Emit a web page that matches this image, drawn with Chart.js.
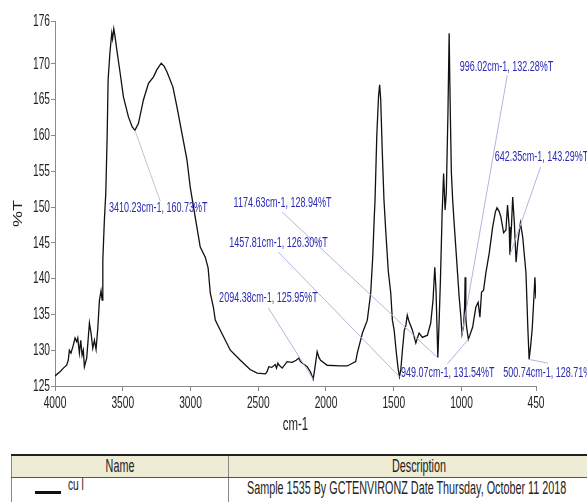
<!DOCTYPE html>
<html>
<head>
<meta charset="utf-8">
<script src="https://cdn.jsdelivr.net/npm/chart.js@4.4.1/dist/chart.umd.min.js"></script>
<style>
  html, body { margin: 0; padding: 0; background: #fff; overflow: hidden; }
  #wrap { position: relative; width: 587px; height: 502px; overflow: hidden; }
  #ir-chart { position: absolute; left: 0; top: 0; }
  table.lg { position: absolute; left: 11px; top: 454px; width: 600px; border-collapse: collapse; table-layout: fixed;
    font-family: "Liberation Sans", Arial, sans-serif; font-size: 18px; color: #222; }
  table.lg th { background: #efecd6; font-weight: normal; height: 20px; padding: 0; overflow: hidden; white-space: nowrap;
    border-top: 2px solid #222; border-bottom: 1px solid #555; border-right: 1px solid #888; border-left: 1px solid #888; }
  table.lg td { height: 44px; padding: 0; border-right: 1px solid #888; border-left: 1px solid #888; vertical-align: top;
    white-space: nowrap; overflow: hidden; }
  .sq { display: inline-block; transform: scaleX(0.6); white-space: nowrap; }
  th .sq { transform-origin: center; }
  td .sq { transform-origin: left; }
  .sw { display: inline-block; width: 26px; height: 3px; background: #111; margin: 0 7px 0 23px; vertical-align: middle; }
</style>
</head>
<body>
<div id="wrap">
  <canvas id="ir-chart" width="587" height="445"></canvas>
  <table class="lg">
    <colgroup><col style="width:217px"><col></colgroup>
    <tr><th><span class="sq">Name</span></th><th><span class="sq">Description</span></th></tr>
    <tr>
      <td><div style="margin-top:-3px"><span class="sw"></span><span class="sq" style="font-size:17px;vertical-align:7px">cu l</span></div></td>
      <td><div style="margin:0 0 0 18px"><span class="sq">Sample 1535 By GCTENVIRONZ Date Thursday, October 11 2018</span></div></td>
    </tr>
  </table>
</div>
<script>
/* FTIR スペクトル: 横軸は波数(降順)、縦軸は %T。ピーク注記つき */

const WAVENUMBER = [
  4000, 3963, 3938, 3914, 3902, 3894, 3882, 3865, 3852, 3840, 3832, 3820, 3810, 3800, 3791, 3783,
  3766, 3746, 3734, 3721, 3709, 3697, 3684, 3672, 3660, 3652, 3647, 3636, 3625, 3615, 3608, 3595,
  3581, 3575, 3566, 3558, 3544, 3519, 3495, 3458, 3430, 3410.23, 3384, 3347, 3310, 3273, 3248, 3216,
  3195, 3174, 3130, 3100, 3063, 3026, 3002, 2960, 2928, 2891, 2870, 2854, 2831, 2817, 2780, 2706,
  2632, 2560, 2508, 2447, 2435, 2422, 2400, 2375, 2365, 2355, 2345, 2323, 2287, 2250, 2220, 2200,
  2188, 2160, 2139, 2115, 2094.38, 2082, 2065, 2052, 2040, 1991, 1900, 1843, 1781, 1769, 1731, 1695,
  1670, 1655, 1645, 1638, 1625, 1612, 1604, 1596, 1585, 1572, 1560, 1540, 1522, 1510, 1497, 1480,
  1468, 1457.81, 1448, 1436, 1422, 1411, 1400, 1387, 1362, 1337, 1313, 1288, 1251, 1227, 1210, 1197,
  1188, 1174.63, 1165, 1155, 1143, 1132, 1121, 1112, 1100, 1091, 1084, 1075, 1065, 1055, 1042, 1017,
  1005, 996.02, 985, 977, 973, 968, 962, 955, 949.07, 940, 918, 894, 877, 864, 852, 837,
  820, 795, 770, 750, 738, 722, 709, 689, 672, 660, 648, 642.35, 632, 622, 610, 597,
  585, 565, 548, 524, 510, 500.74, 490, 478, 468, 458, 453, 450,
];
const TRANSMITTANCE = [
  126.4, 127.0, 127.5, 127.9, 128.6, 130.0, 129.6, 130.7, 131.7, 131.2, 131.7, 129.6, 131.4, 129.3, 130.0, 127.7,
  128.9, 133.8, 132.4, 130.3, 131.4, 130.1, 133.1, 137.0, 138.3, 137.0, 142.6, 148.0, 152.0, 160.0, 167.8, 171.5,
  174.3, 173.5, 174.9, 174.0, 172.0, 168.7, 165.4, 162.6, 161.2, 160.73, 161.7, 165.0, 167.3, 168.2, 169.2, 170.1,
  169.7, 168.9, 166.8, 164.0, 160.3, 156.6, 152.8, 148.0, 144.4, 143.0, 141.5, 138.0, 136.0, 134.2, 132.8, 130.0,
  128.6, 127.3, 126.8, 126.7, 127.0, 127.7, 127.6, 128.0, 127.5, 128.2, 127.9, 127.5, 128.4, 128.3, 128.6, 128.9,
  128.4, 128.0, 127.7, 127.0, 125.95, 127.5, 129.8, 129.0, 128.6, 127.9, 127.8, 127.8, 128.4, 129.6, 132.4, 134.2,
  138.0, 143.0, 148.0, 151.0, 160.0, 165.5, 167.1, 165.0, 158.0, 151.0, 147.0, 141.0, 138.0, 134.2, 132.8, 129.5,
  127.5, 126.3, 127.2, 130.0, 132.8, 133.4, 134.9, 134.0, 132.8, 131.0, 132.4, 131.8, 132.1, 133.8, 137.0, 141.6,
  138.4, 128.94, 134.0, 140.0, 149.0, 154.7, 149.6, 152.0, 163.0, 174.3, 165.0, 155.0, 151.0, 148.0, 144.4, 137.4,
  134.8, 132.28, 133.3, 136.0, 140.2, 134.5, 133.2, 132.3, 131.54, 132.0, 133.2, 136.0, 136.7, 134.6, 138.1, 138.4,
  140.8, 143.6, 147.2, 149.3, 149.9, 149.4, 148.6, 146.4, 146.8, 150.3, 147.2, 143.29, 147.0, 151.4, 147.8, 142.3,
  145.0, 147.8, 145.8, 140.8, 133.0, 128.71, 130.5, 133.0, 136.5, 140.2, 138.0, 137.2,
];

const X_TICKS = [4000, 3500, 3000, 2500, 2000, 1500, 1000, 450];
const Y_TICKS = [125, 130, 135, 140, 145, 150, 155, 160, 165, 170, 176];

// ピーク注記(波数, %T)
const PEAK_WN = [3410.23, 1174.63, 1457.81, 2094.38, 949.07, 500.74, 996.02, 642.35];
const PEAK_T = [160.73, 128.94, 126.3, 125.95, 131.54, 128.71, 132.28, 143.29];

// 注記文字の中心と引き出し線の端(データ座標)
const LABEL_AT = [[3238, 149.9], [2321, 150.6], [2351, 145.0], [2425, 137.3], [1101, 126.8], [346, 126.8], [668, 169.6], [409, 157.0]];
const LEADER_END = [[3223, 150.8], [2323, 149.3], [2351, 143.7], [2425, 135.9], [1103, 128.1], [363, 128.2], [662, 168.4], [416, 155.6]];

const FONT = "'Liberation Sans', Arial, sans-serif";
const SQ = 0.6; // 元画像は横方向に圧縮されている

function squishText(ctx, text, x, y, size, align, color) {
  ctx.save();
  ctx.translate(x, y);
  ctx.scale(SQ, 1);
  ctx.font = `${size}px ${FONT}`;
  ctx.fillStyle = color;
  ctx.textAlign = align;
  ctx.textBaseline = "middle";
  ctx.fillText(text, 0, 0);
  ctx.restore();
}

const labelPlugin = {
  id: "irLabels",
  afterDraw(chart) {
    const ctx = chart.ctx;
    const xs = chart.scales.x;
    const ys = chart.scales.y;
    const ink = "#222";

    X_TICKS.forEach((v) => squishText(ctx, String(v), xs.getPixelForValue(v), xs.top + 17, 17, "center", ink));
    Y_TICKS.forEach((v) => squishText(ctx, String(v), ys.right - 5, ys.getPixelForValue(v), 17, "right", ink));
    squishText(ctx, "cm-1", (xs.left + xs.right) / 2, xs.top + 39, 19, "center", ink);

    ctx.save();
    ctx.translate(18, (ys.top + ys.bottom) / 2 + 10);
    ctx.scale(0.75, 1);
    ctx.rotate(-Math.PI / 2);
    ctx.font = `18px ${FONT}`;
    ctx.fillStyle = ink;
    ctx.textAlign = "center";
    ctx.textBaseline = "middle";
    ctx.fillText("%T", 0, 0);
    ctx.restore();

    PEAK_WN.forEach((wn, i) => {
      const px = xs.getPixelForValue(wn);
      const py = ys.getPixelForValue(PEAK_T[i]);
      const ex = xs.getPixelForValue(LEADER_END[i][0]);
      const ey = ys.getPixelForValue(LEADER_END[i][1]);
      ctx.save();
      ctx.strokeStyle = i === 0 ? "#c4c4c4" : "#b3b5dc";
      ctx.lineWidth = 1;
      ctx.beginPath();
      ctx.moveTo(px, py);
      ctx.lineTo(ex, ey);
      ctx.stroke();
      ctx.restore();
      const text = `${wn.toFixed(2)}cm-1, ${PEAK_T[i].toFixed(2)}%T`;
      squishText(ctx, text, xs.getPixelForValue(LABEL_AT[i][0]), ys.getPixelForValue(LABEL_AT[i][1]), 15, "center", "#2a2ab4");
    });
  },
};

const points = WAVENUMBER.map((w, i) => ({ x: w, y: TRANSMITTANCE[i] }));
const axisGrey = "#8a8a8a";

new Chart(document.getElementById("ir-chart"), {
  type: "line",
  data: {
    datasets: [{ data: points, borderColor: "#111", borderWidth: 1.3, pointRadius: 0, tension: 0, fill: false }],
  },
  options: {
    responsive: false,
    animation: false,
    devicePixelRatio: 1,
    layout: { padding: { top: 21, right: 51, left: 0, bottom: 0 } },
    plugins: { legend: { display: false }, tooltip: { enabled: false } },
    scales: {
      x: {
        type: "linear",
        reverse: true,
        min: 450,
        max: 4000,
        afterBuildTicks: (s) => { s.ticks = X_TICKS.map((v) => ({ value: v })); },
        afterFit: (s) => { s.height = 59; },
        ticks: { display: false },
        grid: { drawOnChartArea: false, drawTicks: true, tickLength: 5, color: axisGrey },
        border: { color: axisGrey, width: 1 },
      },
      y: {
        min: 125,
        max: 176,
        afterBuildTicks: (s) => { s.ticks = Y_TICKS.map((v) => ({ value: v })); },
        afterFit: (s) => { s.width = 55; },
        ticks: { display: false },
        grid: { drawOnChartArea: false, drawTicks: true, tickLength: 4, color: axisGrey },
        border: { color: axisGrey, width: 1 },
      },
    },
  },
  plugins: [labelPlugin],
});
</script>
</body>
</html>
